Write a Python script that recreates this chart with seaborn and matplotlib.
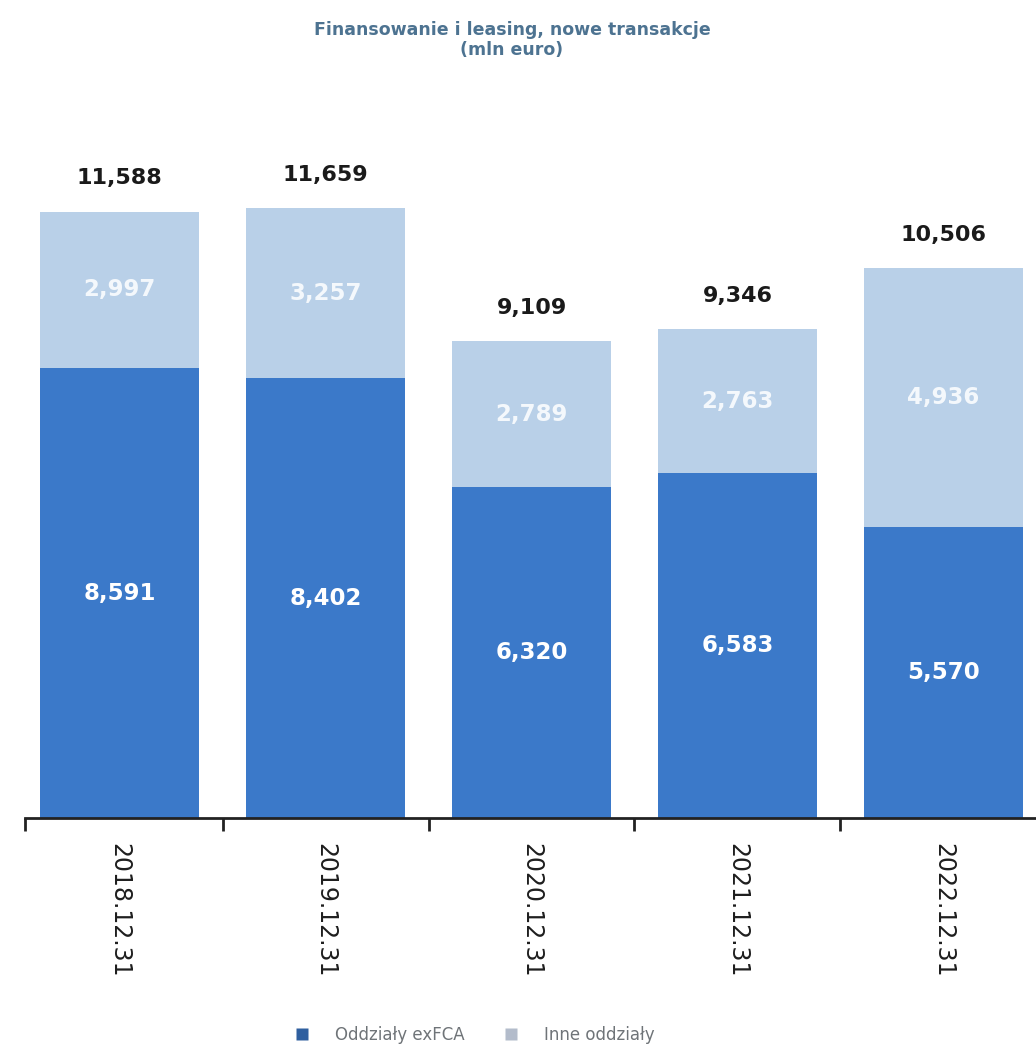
import matplotlib
matplotlib.use("Agg")
import matplotlib.pyplot as plt
from matplotlib.lines import Line2D
import seaborn as sns
import pandas as pd

# Data (mln euro)
periods = ["2018.12.31", "2019.12.31", "2020.12.31", "2021.12.31", "2022.12.31"]
exfca = [8591, 8402, 6320, 6583, 5570]
inne = [2997, 3257, 2789, 2763, 4936]
totals = [11588, 11659, 9109, 9346, 10506]

dark_blue = "#3b79c9"
light_blue = "#b9d0e8"

sns.set_theme(style="white")
plt.rcParams["font.family"] = ["DejaVu Sans"]

df = pd.DataFrame({"okres": periods, "exFCA": exfca, "inne": inne, "suma": totals})

W, H = 1036, 1051
fig = plt.figure(figsize=(W / 100, H / 100), dpi=100)
fig.patch.set_facecolor("white")

base_px = 818
top_px = 100
ax = fig.add_axes([25 / W, (H - base_px) / H, 1011 / W, (base_px - top_px) / H])

# Stacked bars: full totals in light blue, exFCA part in dark blue over it
sns.barplot(data=df, x="okres", y="suma", color=light_blue, saturation=1,
            width=0.77, ax=ax, linewidth=0)
sns.barplot(data=df, x="okres", y="exFCA", color=dark_blue, saturation=1,
            width=0.77, ax=ax, linewidth=0)

ax.set_xlim(-0.46, 4.45)
ax.set_ylim(0, 13720)
ax.set_xlabel("")
ax.set_ylabel("")
ax.set_yticks([])

for s in ["top", "right", "left"]:
    ax.spines[s].set_visible(False)
ax.spines["bottom"].set_color("#222222")
ax.spines["bottom"].set_linewidth(2)

# Category boundary ticks
ax.set_xticks([-0.46, 0.5, 1.5, 2.5, 3.5], minor=True)
ax.tick_params(axis="x", which="minor", direction="out", length=9, width=2,
               color="#222222", bottom=True)
ax.tick_params(axis="x", which="major", length=0, pad=18)
ax.set_xticks(range(len(periods)))
ax.set_xticklabels(periods, rotation=270, fontsize=17, color="#1e1e1e",
                   va="top", ha="center")

# Value labels
for i in range(len(periods)):
    ax.text(i, exfca[i] / 2, f"{exfca[i]:,}", ha="center", va="center",
            color="white", fontsize=16.5, fontweight="bold")
    ax.text(i, exfca[i] + inne[i] / 2, f"{inne[i]:,}", ha="center", va="center",
            color="#f4f8fc", fontsize=16.5, fontweight="bold")
    ax.annotate(f"{totals[i]:,}", xy=(i, totals[i]), xytext=(0, 24),
                textcoords="offset points", ha="center", va="center",
                color="#1a1a1a", fontsize=16, fontweight="bold")

# Title
fig.text(512 / W, 1 - 30 / H, "Finansowanie i leasing, nowe transakcje",
         ha="center", va="center", fontsize=12.5, color="#4d7391", fontweight="bold")
fig.text(512 / W, 1 - 50 / H, "(mln euro)",
         ha="center", va="center", fontsize=12.5, color="#4d7391", fontweight="bold")

# Legend
handles = [
    Line2D([], [], marker="s", linestyle="none", markersize=8,
           markerfacecolor="#2f5f9f", markeredgecolor="none", label="Oddziały exFCA"),
    Line2D([], [], marker="s", linestyle="none", markersize=8,
           markerfacecolor="#b3bccb", markeredgecolor="none", label="Inne oddziały"),
]
fig.legend(handles=handles, loc="center", bbox_to_anchor=(470 / W, 1 - 1035 / H),
           ncol=2, frameon=False, fontsize=12, labelcolor="#6f7478",
           handletextpad=1.0, columnspacing=1.8)

fig.savefig("out.png", dpi=100, facecolor="white")
